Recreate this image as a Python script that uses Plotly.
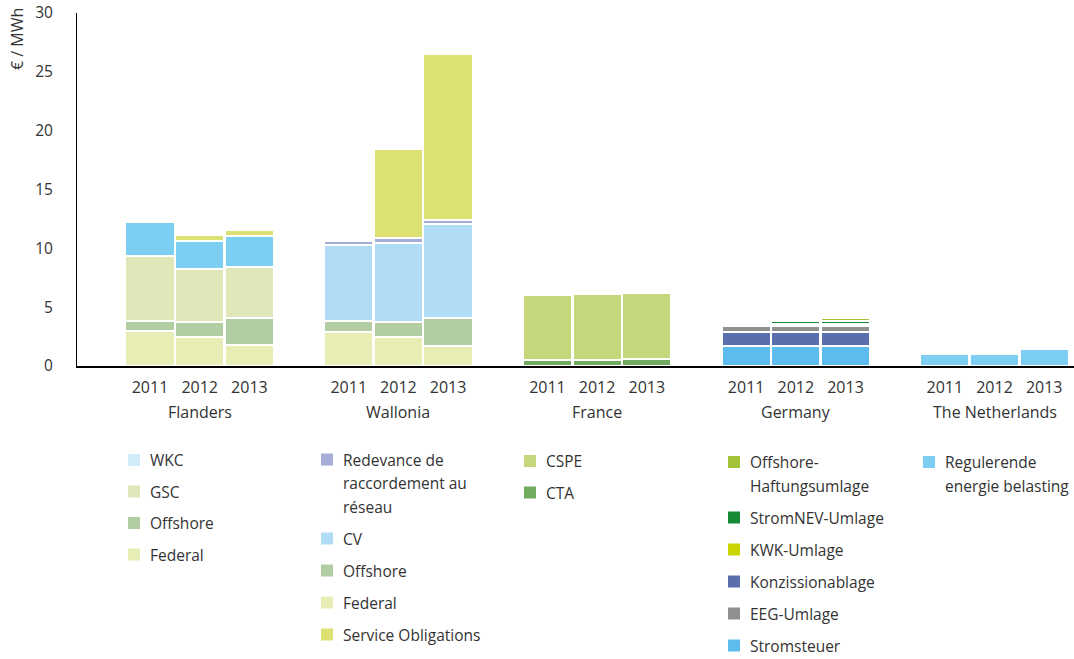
import plotly.graph_objects as go

# ---- categories ----
years = ["2011", "2012", "2013"]
regions = ["Flanders", "Wallonia", "France", "Germany", "The Netherlands"]

# ---- levies per region (EUR / MWh), stacked bottom -> top ----
fl_federal = [2.95, 2.50, 1.75]
fl_offshore = [0.90, 1.20, 2.35]
fl_gsc = [5.50, 4.55, 4.30]
fl_wkc = [2.85, 2.35, 2.65]
fl_service = [0.00, 0.50, 0.50]

wa_federal = [2.93, 2.48, 1.74]
wa_offshore = [0.92, 1.22, 2.36]
wa_cv = [6.45, 6.78, 7.97]
wa_redevance = [0.32, 0.36, 0.38]
wa_service = [0.00, 7.56, 14.03]

fr_cta = [0.55, 0.55, 0.60]
fr_cspe = [5.45, 5.54, 5.60]

de_stromsteuer = [1.74, 1.74, 1.74]
de_konzession = [1.11, 1.11, 1.11]
de_eeg = [0.51, 0.51, 0.51]
de_kwk = [0.22, 0.25, 0.25]
de_stromnev = [0.00, 0.25, 0.25]
de_offshore = [0.00, 0.00, 0.25]

nl_regulerende = [0.98, 1.00, 1.48]

# ---- colours ----
C = {
    "wkc": "#7ccff3", "wkc_key": "#d3ecfa", "gsc": "#dfe6b8", "offshore": "#b3cda2",
    "federal": "#e8ecb5", "service": "#dce172", "redevance": "#a4acd8", "cv": "#b1dcf5",
    "cspe": "#c4d77b", "cta": "#70ab60", "offshore_h": "#a3c43a", "stromnev": "#178a36",
    "kwk": "#c9d400", "konz": "#5a6ead", "eeg": "#909090", "stromsteuer": "#5bbced",
    "regulerende": "#7ccff3",
}

FONT = "Open Sans, Noto Sans, sans-serif"
TXT = "#333333"

# stacked series per region, bottom to top
stacks = [
    [(fl_federal, C["federal"]), (fl_offshore, C["offshore"]), (fl_gsc, C["gsc"]),
     (fl_wkc, C["wkc"]), (fl_service, C["service"])],
    [(wa_federal, C["federal"]), (wa_offshore, C["offshore"]), (wa_cv, C["cv"]),
     (wa_redevance, C["redevance"]), (wa_service, C["service"])],
    [(fr_cta, C["cta"]), (fr_cspe, C["cspe"])],
    [(de_stromsteuer, C["stromsteuer"]), (de_konzession, C["konz"]), (de_eeg, C["eeg"]),
     (de_kwk, C["kwk"]), (de_stromnev, C["stromnev"]), (de_offshore, C["offshore_h"])],
    [(nl_regulerende, C["regulerende"])],
]

SLOTS = 4  # three years plus one empty slot between regions

fig = go.Figure()
tickvals, ticktext = [], []
for g, series in enumerate(stacks):
    xs = [g * SLOTS + i for i in range(len(years))]
    tickvals += xs
    ticktext += years
    for values, color in series:
        fig.add_trace(go.Bar(
            x=xs, y=values, width=0.99,
            marker=dict(color=color, line=dict(color="white", width=2.5)),
            showlegend=False, hoverinfo="y",
        ))

# plot area in pixels
W, H = 1074, 659
L, R, T, B = 77, 0, 13, 293
PW, PH = W - L - R, H - T - B


def px(x):
    return (x - L) / PW


def py(y):
    return (H - B - y) / PH


annotations = []
shapes = []

# region names under the year labels
for g, name in enumerate(regions):
    annotations.append(dict(
        x=g * SLOTS + 1, xref="x", y=py(412), yref="paper", text=name,
        showarrow=False, xanchor="center", yanchor="middle",
        font=dict(family=FONT, size=16, color=TXT),
    ))

# y-axis title, rotated, at the top of the axis
annotations.append(dict(
    x=px(17), y=py(39), xref="paper", yref="paper", text="€ / MWh",
    textangle=-90, showarrow=False, xanchor="center", yanchor="middle",
    font=dict(family=FONT, size=16, color=TXT),
))

# legend columns, one per region
legend_cols = [
    (128, 460, 31.5, [("WKC", C["wkc_key"]), ("GSC", C["gsc"]), ("Offshore", C["offshore"]),
                      ("Federal", C["federal"])]),
    (321, 459.5, 32, [("Redevance de<br>raccordement au<br>réseau", C["redevance"]),
                      ("CV", C["cv"]), ("Offshore", C["offshore"]), ("Federal", C["federal"]),
                      ("Service Obligations", C["service"])]),
    (524, 461, 31.5, [("CSPE", C["cspe"]), ("CTA", C["cta"])]),
    (728, 462, 32, [("Offshore-<br>Haftungsumlage", C["offshore_h"]),
                    ("StromNEV-Umlage", C["stromnev"]), ("KWK-Umlage", C["kwk"]),
                    ("Konzissionablage", C["konz"]), ("EEG-Umlage", C["eeg"]),
                    ("Stromsteuer", C["stromsteuer"])]),
    (923, 462, 32, [("Regulerende<br>energie belasting", C["regulerende"])]),
]
LINE_GAP = 23.5
for sx, y0, step, items in legend_cols:
    y = y0
    for label, color in items:
        shapes.append(dict(
            type="rect", xref="paper", yref="paper",
            x0=px(sx), x1=px(sx + 12), y0=py(y - 6), y1=py(y + 6),
            fillcolor=color, line=dict(width=0), layer="above",
        ))
        lines = label.split("<br>")
        for k, line in enumerate(lines):
            annotations.append(dict(
                x=px(sx + 20), y=py(y + k * LINE_GAP), xref="paper", yref="paper",
                text=line, showarrow=False, xanchor="left", yanchor="middle",
                font=dict(family=FONT, size=15.5, color=TXT),
            ))
        y += (len(lines) - 1) * LINE_GAP + step

fig.update_layout(
    width=W, height=H, autosize=False,
    margin=dict(l=L, r=R, t=T, b=B, pad=0),
    paper_bgcolor="white", plot_bgcolor="white",
    barmode="stack", bargap=0,
    font=dict(family=FONT, size=15, color=TXT),
    showlegend=False,
    annotations=annotations, shapes=shapes,
    xaxis=dict(
        range=[-1.47, 18.6], tickvals=tickvals, ticktext=ticktext,
        showgrid=False, zeroline=False, showline=True, linecolor="black", linewidth=1.5,
        ticks="", ticklabelstandoff=6, tickfont=dict(family=FONT, size=16, color=TXT),
    ),
    yaxis=dict(
        range=[0, 30], tickvals=[0, 5, 10, 15, 20, 25, 30],
        showgrid=False, zeroline=False, showline=True, linecolor="black", linewidth=1,
        ticks="", ticklabelstandoff=20, tickfont=dict(family=FONT, size=15.5, color=TXT),
    ),
)

fig.write_html("out.html")
